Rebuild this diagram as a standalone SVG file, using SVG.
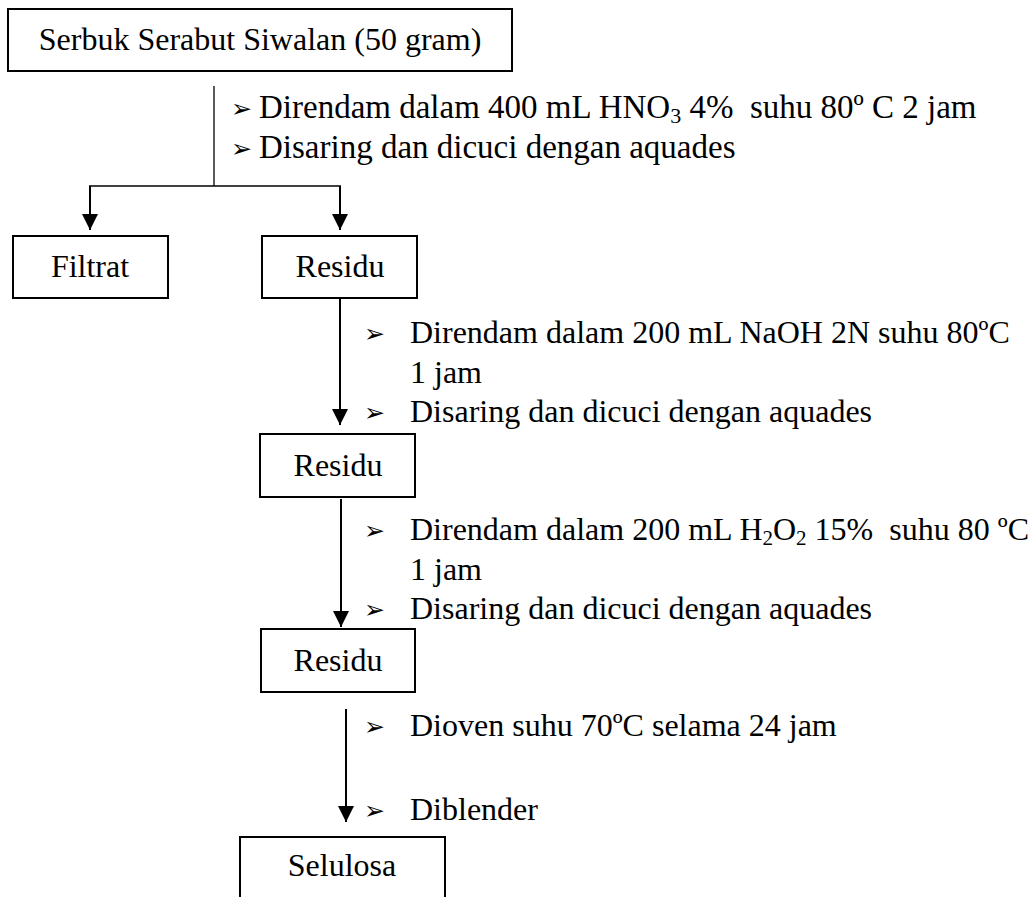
<svg xmlns="http://www.w3.org/2000/svg" width="1032" height="897" viewBox="0 0 1032 897">
<style>
.box{fill:#fff;stroke:#000;stroke-width:2}
.t{font-family:"Liberation Serif","Times New Roman",serif;font-size:32px;fill:#000}
.t1{font-size:33px}
.c{text-anchor:middle}
.b{font-family:"DejaVu Sans",sans-serif;font-size:25px;fill:#000}
.thin{fill:none;stroke:#000;stroke-width:1.3}
.ar{fill:none;stroke:#000;stroke-width:2;marker-end:url(#ah)}
</style>
<defs>
<marker id="ah" viewBox="0 0 16 16" refX="16" refY="8" markerWidth="16" markerHeight="16" orient="auto" markerUnits="userSpaceOnUse"><path d="M0,0 L16,8 L0,16 z" fill="#000"/></marker>
</defs>
<rect width="1032" height="897" fill="#fff"/>
<g id="connectors">
<path class="thin" d="M214,86 V186"/>
<path class="thin" d="M89,186 H341"/>
<path class="ar" d="M90,186 V230"/>
<path class="ar" d="M340,186 V230"/>
<path class="ar" d="M340,298 V425"/>
<path class="ar" d="M341,499 V627"/>
<path class="ar" d="M346,709 V822"/>
</g>
<g id="start">
<rect class="box" x="8" y="9" width="504" height="62"/>
<text class="t c" x="260" y="50">Serbuk Serabut Siwalan (50 gram)</text>
</g>
<g id="step1">
<text class="b" x="231" y="117">➢</text>
<text class="t t1" x="259" y="118">Direndam dalam 400 mL HNO<tspan font-size="22" dy="5">3</tspan><tspan dy="-5"> 4%&#160; suhu 80º C 2 jam</tspan></text>
<text class="b" x="231" y="157">➢</text>
<text class="t t1" x="259" y="158">Disaring dan dicuci dengan aquades</text>
</g>
<g id="filtrat">
<rect class="box" x="13" y="236" width="155" height="62"/>
<text class="t c" x="90" y="277">Filtrat</text>
</g>
<g id="residu1">
<rect class="box" x="262" y="236" width="155" height="62"/>
<text class="t c" x="340" y="277">Residu</text>
</g>
<g id="step2">
<text class="b" x="364" y="342">➢</text>
<text class="t" x="410" y="343">Direndam dalam 200 mL NaOH 2N suhu 80ºC</text>
<text class="t" x="410" y="383">1 jam</text>
<text class="b" x="364" y="421">➢</text>
<text class="t" x="410" y="422">Disaring dan dicuci dengan aquades</text>
</g>
<g id="residu2">
<rect class="box" x="260" y="434" width="155" height="63"/>
<text class="t c" x="338" y="476">Residu</text>
</g>
<g id="step3">
<text class="b" x="364" y="539">➢</text>
<text class="t" x="410" y="540">Direndam dalam 200 mL H<tspan font-size="21" dy="5">2</tspan><tspan dy="-5">O</tspan><tspan font-size="21" dy="5">2</tspan><tspan dy="-5"> 15%&#160; suhu 80 ºC</tspan></text>
<text class="t" x="410" y="580">1 jam</text>
<text class="b" x="364" y="618">➢</text>
<text class="t" x="410" y="619">Disaring dan dicuci dengan aquades</text>
</g>
<g id="residu3">
<rect class="box" x="261" y="629" width="154" height="63"/>
<text class="t c" x="338" y="671">Residu</text>
</g>
<g id="step4">
<text class="b" x="364" y="735">➢</text>
<text class="t" x="410" y="736">Dioven suhu 70ºC selama 24 jam</text>
<text class="b" x="364" y="819">➢</text>
<text class="t" x="410" y="820">Diblender</text>
</g>
<g id="selulosa">
<path class="box" d="M240,905 V837 H445 V905"/>
<text class="t c" x="342" y="876">Selulosa</text>
</g>
</svg>
